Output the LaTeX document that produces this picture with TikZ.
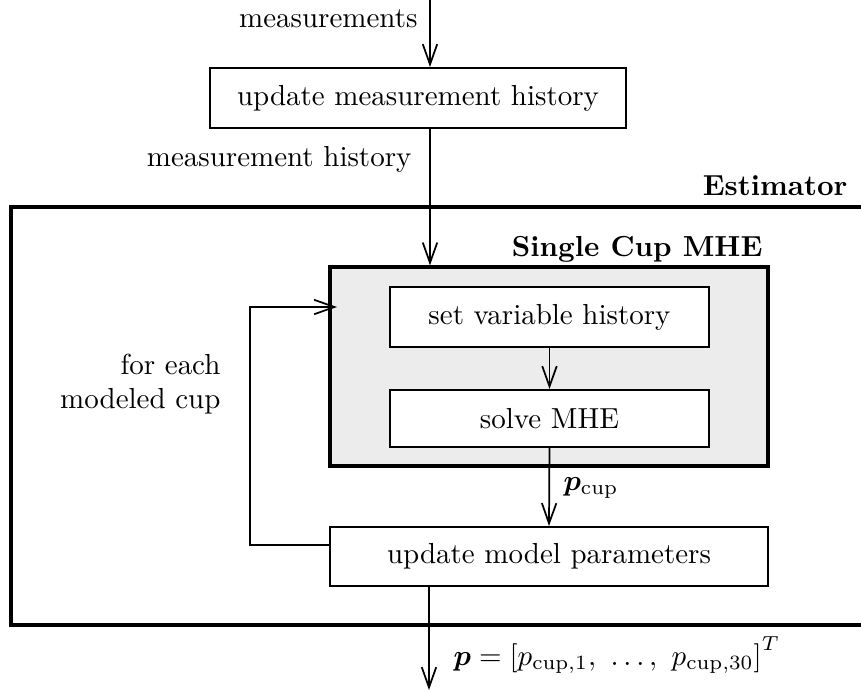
\documentclass[tikz,border=0pt]{standalone}
\usepackage{amsmath}
\usepackage{bm}
\usetikzlibrary{arrows.meta}

\newcommand{\un}{0.345pt}

\tikzset{
  flow/.style={line width=0.6pt, -{Straight Barb[length=7pt,width=5pt,line width=0.6pt]}},
  block/.style={draw, line width=0.7pt, fill=white, rectangle, inner sep=0pt},
  group/.style={draw, line width=1.1pt, rectangle, inner sep=0pt},
  outer/.style={draw, line width=1.3pt, rectangle, inner sep=0pt},
  tag/.style={inner sep=0pt},
}

\begin{document}
\begin{tikzpicture}[x=\un, y=-\un]
  \useasboundingbox (0,0) rectangle (861,691);

  % outer estimator frame (right side runs past the page edge)
  \node[outer, minimum width=859*\un, minimum height=418*\un] (est) at (440.5,416) {};
  \node[tag, anchor=base east, font=\bfseries] (estlbl) at (848,195) {Estimator};

  % single-cup MHE group
  \node[group, fill=gray!15, minimum width=438*\un, minimum height=199*\un] (smhe) at (549,366.5) {};
  \node[tag, anchor=base east, font=\bfseries] (smhelbl) at (763,256) {Single Cup MHE};

  % processing blocks
  \node[block, minimum width=416*\un, minimum height=60*\un] (upd) at (418,98) {update measurement history};
  \node[block, minimum width=319*\un, minimum height=60*\un] (setv) at (549.5,317) {set variable history};
  \node[block, minimum width=319*\un, minimum height=57*\un] (solve) at (549.5,418.5) {solve MHE};
  \node[block, minimum width=438*\un, minimum height=59*\un] (model) at (549,556.5) {update model parameters};

  % signal labels
  \node[tag, anchor=base east] (measlbl) at (418,27) {measurements};
  \node[tag, anchor=base east] (histlbl) at (412,166) {measurement history};
  \node[tag, anchor=east, align=right] (looplbl) at (221,384) {for each\\modeled cup};
  \node[tag, anchor=west] (pcuplbl) at (563,488) {$\bm{p}_{\mathrm{cup}}$};
  \node[tag, anchor=base west] (plbl) at (453,665)
    {$\bm{p} = \left[p_{\mathrm{cup},1},\ \ldots,\ p_{\mathrm{cup},30}\right]^T$};

  % free ends of the connectors
  \coordinate (in) at (430,0);
  \coordinate (out) at (429,690);
  \coordinate (fbl) at (250,545);
  \coordinate (fbt) at (250,307);
  \coordinate (fbend) at (337,307);

  % connectors
  \draw[flow] (in) -- (in |- upd.north);
  \draw[flow] (upd.south -| in) -- (in |- smhe.north);
  \draw[flow] (setv.south) -- (solve.north);
  \draw[flow] (solve.south) -- (model.north);
  \draw[flow] (model.south -| out) -- (out);
  \draw[flow] (model.west |- fbl) -- (fbl) -- (fbt) -- (fbend);
\end{tikzpicture}
\end{document}
